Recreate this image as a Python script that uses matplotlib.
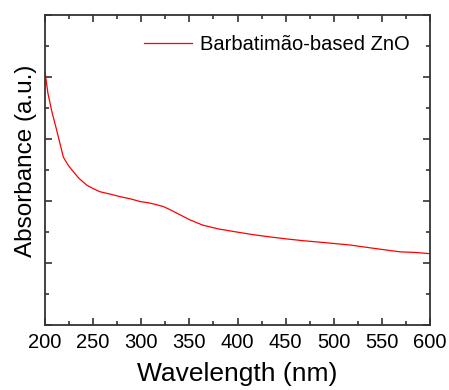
import matplotlib
matplotlib.use("Agg")
import matplotlib.pyplot as plt
from matplotlib.ticker import MultipleLocator, NullFormatter

plt.rcParams['font.family'] = ['Liberation Sans', 'DejaVu Sans']

# UV-vis absorbance of the ZnO sample
wavelength = [200, 203, 207, 212, 216, 219, 224, 228, 235, 243, 250, 257, 268,
              278, 290, 299, 308, 316, 323, 330, 340, 350, 364, 380, 399, 415,
              434, 450, 468, 490, 517, 540, 569, 585, 600]
absorbance = [4.08, 3.74, 3.45, 3.15, 2.90, 2.71, 2.58, 2.50, 2.37, 2.26, 2.20,
              2.15, 2.11, 2.07, 2.03, 1.99, 1.97, 1.94, 1.91, 1.86, 1.78, 1.70,
              1.61, 1.55, 1.50, 1.46, 1.42, 1.39, 1.36, 1.33, 1.29, 1.24, 1.18,
              1.17, 1.15]
series_label = "Barbatimão-based ZnO"

fig = plt.figure(figsize=(4.49, 3.90), dpi=100)
ax = fig.add_axes([45 / 449, 1 - 325 / 390, 385 / 449, 310 / 390])

ax.plot(wavelength, absorbance, color='red', linewidth=0.9, label=series_label)

ax.set_xlim(200, 600)
ax.set_ylim(0, 5)
ax.xaxis.set_major_locator(MultipleLocator(50))
ax.xaxis.set_minor_locator(MultipleLocator(25))
ax.yaxis.set_major_locator(MultipleLocator(1))
ax.yaxis.set_minor_locator(MultipleLocator(0.5))
ax.yaxis.set_major_formatter(NullFormatter())

ax.tick_params(which='both', direction='in', top=True, right=True,
               color='#333333', width=1.2)
ax.tick_params(which='major', length=5, labelsize=14.5, pad=6)
ax.tick_params(which='minor', length=3)
for s in ax.spines.values():
    s.set_color('#333333')
    s.set_linewidth(1.3)

ax.set_xlabel("Wavelength (nm)", fontsize=19, labelpad=7)
ax.set_ylabel("Absorbance (a.u.)", fontsize=17.5)
ax.yaxis.set_label_coords(-0.022, 0.53)

ax.legend(loc='upper right', frameon=False, fontsize=14.5, handlelength=2.4,
          handletextpad=0.4, borderaxespad=0.6)

fig.savefig("out.png", dpi=100)
